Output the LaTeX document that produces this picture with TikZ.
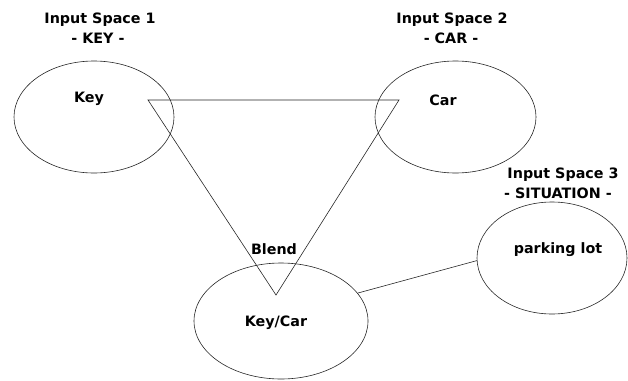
\documentclass[tikz,border=0pt]{standalone}
\usepackage{fontspec}
\setmainfont{DejaVu Sans}
\usetikzlibrary{shapes.geometric}
\tikzset{
  space/.style={ellipse, draw=black!85, line width=0.6pt, inner sep=0pt},
  lbl/.style={font=\fontsize{14.3}{17}\selectfont\bfseries, inner sep=0pt, align=center},
  conn/.style={draw=black!85, line width=0.6pt}
}
\begin{document}
\begin{tikzpicture}[x=1pt, y=-1pt]
\useasboundingbox (0,0) rectangle (628,380);
% spaces
\node[space, minimum width=160pt, minimum height=112pt] (key) at (94,117) {};
\node[space, minimum width=161pt, minimum height=112pt] (car) at (455.5,117) {};
\node[space, minimum width=174pt, minimum height=116pt] (bl) at (281,321) {};
\node[space, minimum width=150pt, minimum height=112pt] (pk) at (552,258) {};
% titles
\node[lbl] (t1) at (100,20) {Input Space 1};
\node[lbl] (t1b) at (98,38) {- KEY -};
\node[lbl] (t2) at (452,20) {Input Space 2};
\node[lbl] (t2b) at (451,38) {- CAR -};
\node[lbl] (t3) at (563,175) {Input Space 3};
\node[lbl] (t3b) at (558,193) {- SITUATION -};
\node[lbl] (tb) at (274,249) {Blend};
% contents
\node[lbl] (lk) at (89,99) {Key};
\node[lbl] (lc) at (443,100) {Car};
\node[lbl] (lp) at (558,250) {parking lot};
\node[lbl] (lkc) at (276,323) {Key/Car};
% triangle
\coordinate (a) at (148,100);
\coordinate (b) at (399,100);
\coordinate (c) at (276,295);
\draw[conn] (a) -- (b) -- (c) -- cycle;
\draw[conn] (bl.20.6) -- (pk.182);
\end{tikzpicture}
\end{document}
